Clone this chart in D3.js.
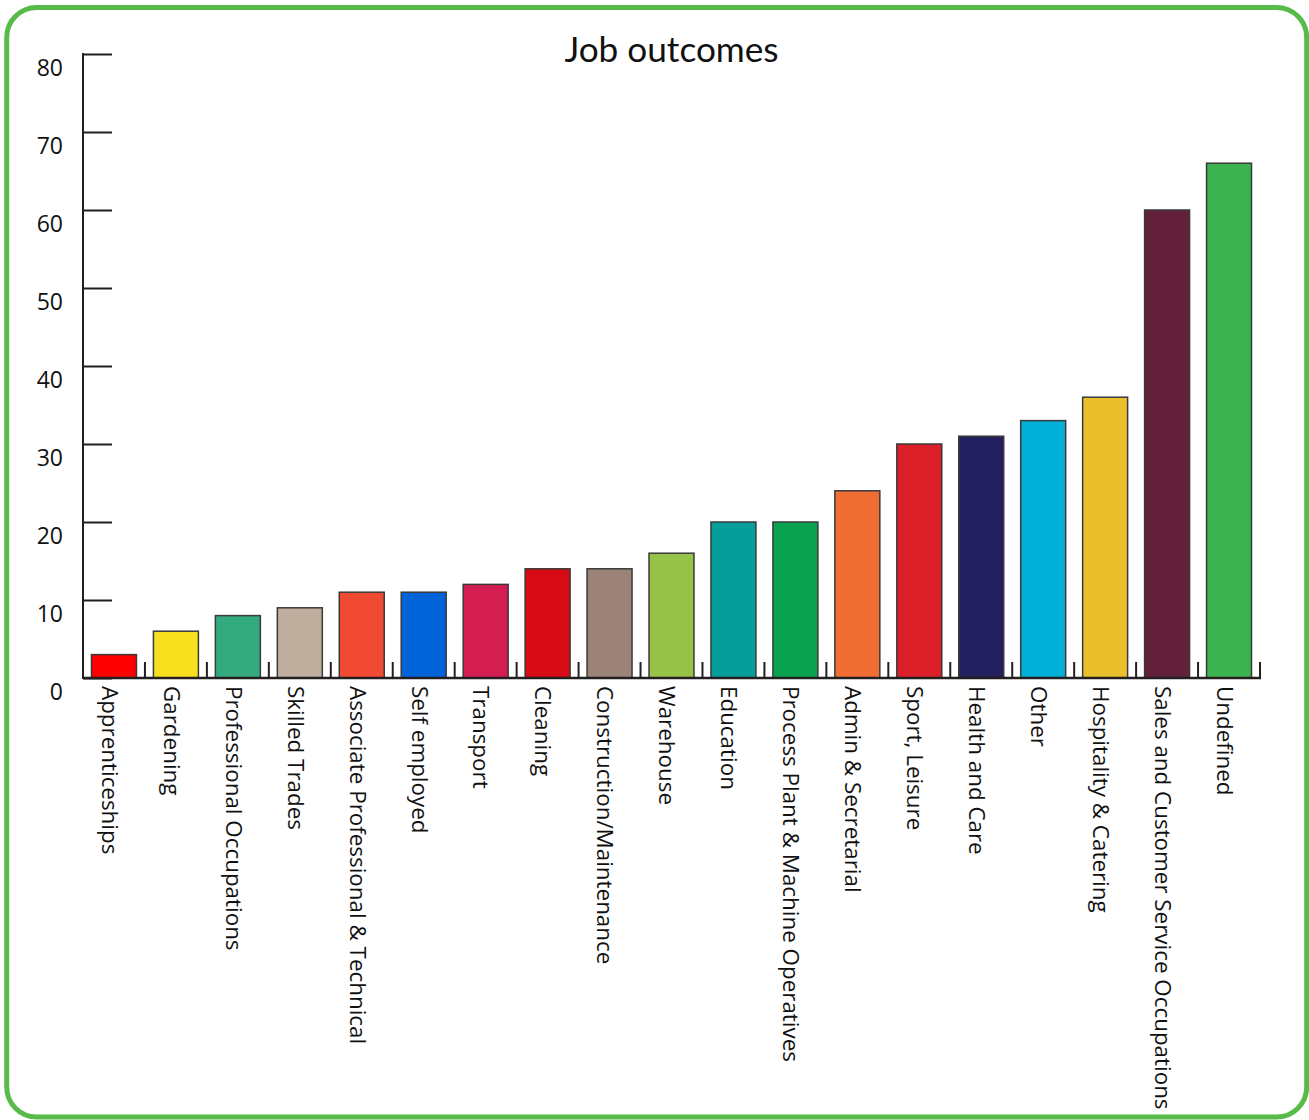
<!DOCTYPE html>
<html><head><meta charset="utf-8">
<script src="https://cdn.jsdelivr.net/npm/d3@7"></script>
<style>
html,body{margin:0;padding:0;background:#fff;}
svg{display:block;}
</style></head>
<body>
<svg id="chart" width="1309" height="1120"></svg>
<script>
const title = "Job outcomes";
const categories = ["Apprenticeships","Gardening","Professional Occupations","Skilled Trades","Associate Professional & Technical","Self employed","Transport","Cleaning","Construction/Maintenance","Warehouse","Education","Process Plant & Machine Operatives","Admin & Secretarial","Sport, Leisure","Health and Care","Other","Hospitality & Catering","Sales and Customer Service Occupations","Undefined"];
const values = [3,6,8,9,11,11,12,14,14,16,20,20,24,30,31,33,36,60,66];
const colors = ["#ff0000","#f9e01f","#33ab7f","#bfae9e","#f04a33","#0064d8","#d41d50","#d60b15","#9c8377","#97c24a","#059e98","#09a24e","#f06d34","#dc1f28","#241f5f","#00b0d6","#eabf2c","#62203b","#3bb44f"];
const yTicks = [0,10,20,30,40,50,60,70,80];

const svg = d3.select("#chart");
const font = "'Open Sans', sans-serif";
const ink = "#231f20";

// border
svg.append("rect").attr("x",6.7).attr("y",7.5).attr("width",1300).attr("height",1109.5)
  .attr("rx",30).attr("ry",30).attr("fill","#fff").attr("stroke","#56bb48").attr("stroke-width",5);

const x = d3.scaleBand().domain(categories).range([83,1260]).paddingInner(0.274).paddingOuter(0.137);
const y = d3.scaleLinear().domain([0,80]).range([678,54]);

// title
svg.append("text").attr("x",671.5).attr("y",62).attr("text-anchor","middle")
  .attr("font-family","Lato, sans-serif").attr("font-size",35.2).attr("fill","#111").text(title);

// bars
svg.append("g").selectAll("rect").data(categories).join("rect")
  .attr("x",d=>x(d)).attr("width",x.bandwidth())
  .attr("y",(d,i)=>y(values[i])).attr("height",(d,i)=>y(0)-y(values[i]))
  .attr("fill",(d,i)=>colors[i]).attr("stroke","#3a3a3a").attr("stroke-width",1.5);

// y axis
const yAxis = d3.axisRight(y).tickValues(yTicks).tickSize(29).tickFormat("");
const gy = svg.append("g").attr("transform","translate(83,0)").call(yAxis);
gy.select(".domain").remove();
gy.selectAll(".tick line").attr("stroke",ink).attr("stroke-width",2);
svg.append("line").attr("x1",83).attr("x2",83).attr("y1",y(80)-1).attr("y2",y(0)+1)
  .attr("stroke",ink).attr("stroke-width",2);
svg.append("g").selectAll("text").data(yTicks).join("text")
  .attr("x",63).attr("y",d=>y(d)+14).attr("dy","0.35em").attr("text-anchor","end")
  .attr("font-family",font).attr("font-size",23).attr("fill","#111").text(d=>d);

// x axis baseline and boundary ticks
svg.append("line").attr("x1",83).attr("x2",1261).attr("y1",y(0)).attr("y2",y(0))
  .attr("stroke",ink).attr("stroke-width",2.5);
const bounds = categories.map(c=>x(c)-x.step()*x.paddingInner()/2).concat([1260]);
svg.append("g").selectAll("line").data(bounds).join("line")
  .attr("x1",d=>d).attr("x2",d=>d).attr("y1",y(0)-16).attr("y2",y(0))
  .attr("stroke",ink).attr("stroke-width",2);

// x labels
svg.append("g").selectAll("text").data(categories).join("text")
  .attr("transform",d=>`translate(${x(d)+x.bandwidth()/2},686) rotate(90)`)
  .attr("y",5).attr("dy","0.32em").attr("text-anchor","start")
  .attr("font-family",font).attr("font-size",22.4).attr("fill","#111").text(d=>d);
</script>
</body></html>
